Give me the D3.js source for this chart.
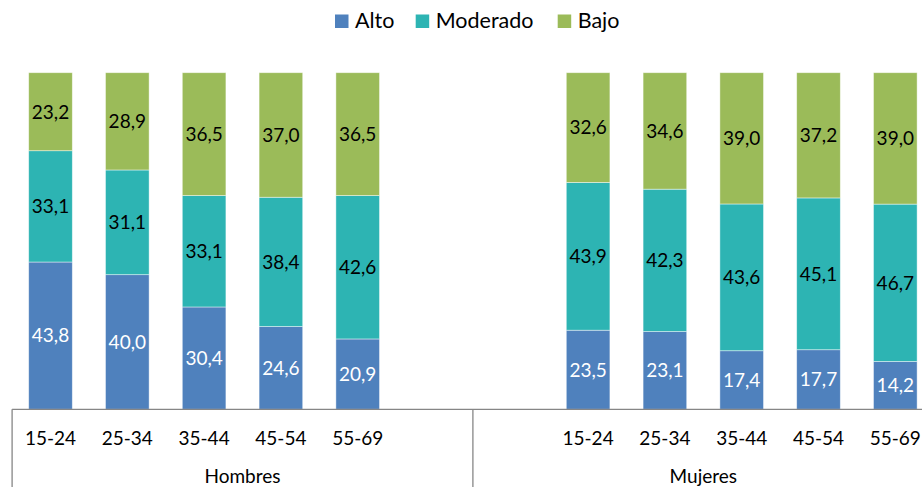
<!DOCTYPE html>
<html><head><meta charset="utf-8">
<script src="https://cdn.jsdelivr.net/npm/d3@7"></script>
<style>body{margin:0;background:#fff}svg{display:block}text{font-family:Lato,"Open Sans",sans-serif}</style>
</head><body><svg id="c" width="922" height="487"></svg>
<script>
const seriesNames = ["Alto", "Moderado", "Bajo"];
const seriesColors = ["#4F81BD", "#2DB4B3", "#9BBB59"];
const ageGroups = ["15-24", "25-34", "35-44", "45-54", "55-69"];
const groups = ["Hombres", "Mujeres"];
const hombresAlto = [43.8, 40.0, 30.4, 24.6, 20.9];
const hombresModerado = [33.1, 31.1, 33.1, 38.4, 42.6];
const hombresBajo = [23.2, 28.9, 36.5, 37.0, 36.5];
const mujeresAlto = [23.5, 23.1, 17.4, 17.7, 14.2];
const mujeresModerado = [43.9, 42.3, 43.6, 45.1, 46.7];
const mujeresBajo = [32.6, 34.6, 39.0, 37.2, 39.0];

// 12 category slots: 5 Hombres + 1 blank | 1 blank + 5 Mujeres
const rows = [];
ageGroups.forEach((a,i)=>rows.push({key:"H"+i, label:a, group:0, Alto:hombresAlto[i], Moderado:hombresModerado[i], Bajo:hombresBajo[i], real:true}));
rows.push({key:"H5", label:"", group:0, Alto:0, Moderado:0, Bajo:0, real:false});
rows.push({key:"M-1", label:"", group:1, Alto:0, Moderado:0, Bajo:0, real:false});
ageGroups.forEach((a,i)=>rows.push({key:"M"+i, label:a, group:1, Alto:mujeresAlto[i], Moderado:mujeresModerado[i], Bajo:mujeresBajo[i], real:true}));

const svg = d3.select("#c");
const x0 = 12.1, step = 76.8;
const x = d3.scaleBand().domain(rows.map(r=>r.key)).range([x0, x0+step*rows.length]).paddingInner(0.432).paddingOuter(0.216);
const y = d3.scaleLinear().domain([0,1]).range([409.3, 72.7]);
const color = d3.scaleOrdinal().domain(seriesNames).range(seriesColors);

const realRows = rows.filter(r=>r.real);
const stack = d3.stack().keys(seriesNames).offset(d3.stackOffsetExpand);
const stacked = stack(realRows);

const g = svg.append("g");
stacked.forEach((layer, li)=>{
  const lg = g.append("g");
  lg.selectAll("rect").data(layer).join("rect")
    .attr("x", d=>x(d.data.key)).attr("width", x.bandwidth())
    .attr("y", d=>y(d[1])).attr("height", d=>y(d[0])-y(d[1]))
    .attr("fill", color(layer.key)).attr("stroke","#fff").attr("stroke-opacity",0.55).attr("stroke-width",0.8);
  lg.selectAll("text").data(layer).join("text")
    .attr("x", d=>x(d.data.key)+x.bandwidth()/2)
    .attr("y", d=>(y(d[0])+y(d[1]))/2)
    .attr("dy","0.36em").attr("text-anchor","middle")
    .attr("font-size",19)
    .attr("fill", li===0 ? "#fff" : "#000")
    .text(d=>d3.format(".1f")(d.data[layer.key]).replace(".",","));
});

// axis
const axisColor = "#868686";
const bottom = 409.3;
svg.append("line").attr("x1",x0).attr("x2",922).attr("y1",bottom).attr("y2",bottom).attr("stroke",axisColor).attr("stroke-width",1.3);
[0,6].forEach(i=>{
  const xx = x0 + step*i;
  svg.append("line").attr("x1",xx).attr("x2",xx).attr("y1",bottom).attr("y2",487).attr("stroke",axisColor).attr("stroke-width",1.3);
});
svg.append("g").selectAll("text").data(realRows).join("text")
  .attr("x", d=>x(d.key)+x.bandwidth()/2).attr("y",444.5)
  .attr("text-anchor","middle").attr("font-size",19).attr("fill","#000").text(d=>d.label);
svg.append("g").selectAll("text").data(groups).join("text")
  .attr("x",(d,i)=>x0+step*(i*6+3)).attr("y",483)
  .attr("text-anchor","middle").attr("font-size",19).attr("fill","#000").text(d=>d);

// legend
const legendX = [335, 415.7, 557.7];
const lg = svg.append("g");
seriesNames.forEach((s,i)=>{
  lg.append("rect").attr("x",legendX[i]).attr("y",14.5).attr("width",13.5).attr("height",13.5).attr("fill",color(s));
  lg.append("text").attr("x",legendX[i]+20).attr("y",28).attr("font-size",21.5).attr("fill","#000").text(s);
});
</script></body></html>
